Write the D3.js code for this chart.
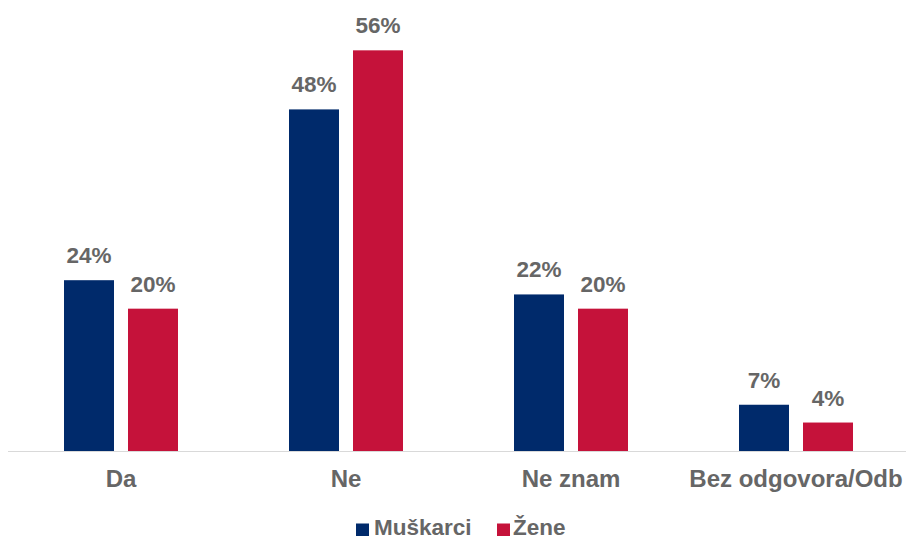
<!DOCTYPE html>
<html>
<head>
<meta charset="utf-8">
<script src="https://cdn.jsdelivr.net/npm/d3@7"></script>
<style>
  html, body { margin: 0; padding: 0; background: #ffffff; }
  svg { display: block; }
  text { font-family: "Liberation Sans", Arial, sans-serif; font-weight: bold; fill: #666666; }
</style>
</head>
<body>
<svg id="chart" width="907" height="540"></svg>
<script>
const categories = ["Da", "Ne", "Ne znam", "Bez odgovora/Odb"];
const seriesNames = ["Muškarci", "Žene"];
const muskarci = [24, 48, 22, 6.5];
const zene = [20, 56.3, 20, 4];
const colors = ["#002a6b", "#c5123a"];

const W = 907, H = 540;
const svg = d3.select("#chart");
const baseline = 451;
const x = d3.scaleBand().domain(categories).range([8.5, 908.5]).padding(0);
const y = d3.scaleLinear().domain([0, 60]).range([baseline, baseline - 427]);
const barW = 50, gap = 14;
const sub = d3.scaleOrdinal().domain(seriesNames).range([-(gap / 2 + barW), gap / 2]);

const series = [muskarci, zene];
const data = [];
seriesNames.forEach((s, si) => {
  categories.forEach((c, ci) => data.push({ s, si, c, v: series[si][ci] }));
});

// axis line
svg.append("line")
  .attr("x1", 8).attr("x2", 906)
  .attr("y1", baseline + 0.5).attr("y2", baseline + 0.5)
  .attr("stroke", "#d9d9d9").attr("stroke-width", 1.2);

svg.append("g").selectAll("rect").data(data).join("rect")
  .attr("x", d => x(d.c) + x.bandwidth() / 2 + sub(d.s))
  .attr("y", d => y(d.v))
  .attr("width", barW)
  .attr("height", d => y(0) - y(d.v))
  .attr("fill", d => colors[d.si]);

svg.append("g").selectAll("text").data(data).join("text")
  .attr("x", d => x(d.c) + x.bandwidth() / 2 + sub(d.s) + barW / 2)
  .attr("y", d => y(d.v) - 17)
  .attr("text-anchor", "middle")
  .style("font-size", "22.5px")
  .text(d => Math.round(d.v) + "%");

// category labels
svg.append("g").selectAll("text").data(categories).join("text")
  .attr("x", d => x(d) + x.bandwidth() / 2)
  .attr("y", 486.5)
  .attr("text-anchor", "middle")
  .style("font-size", "24px")
  .text(d => d);

// legend
const legend = svg.append("g");
const legendItems = [{ x: 356, tx: 374 }, { x: 497, tx: 513 }];
seriesNames.forEach((s, i) => {
  legend.append("rect").attr("x", legendItems[i].x).attr("y", 523.5)
    .attr("width", 13).attr("height", 12.5).attr("fill", colors[i]);
  legend.append("text").attr("x", legendItems[i].tx).attr("y", 535)
    .style("font-size", "22.5px").text(s);
});
</script>
</body>
</html>
